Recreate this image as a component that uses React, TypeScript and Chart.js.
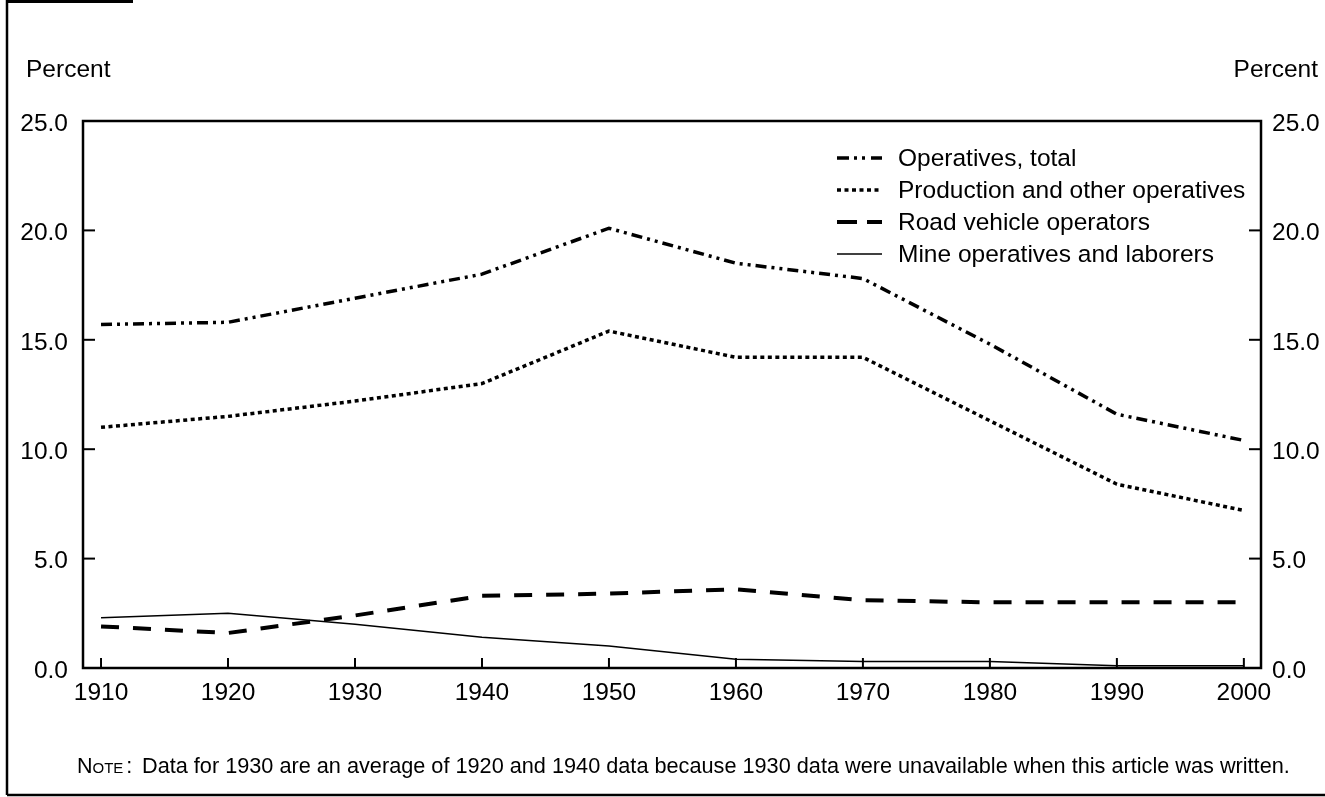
import React, { useEffect, useRef } from "react";
import { Chart, registerables } from "chart.js";

Chart.register(...registerables);

const years = [1910, 1920, 1930, 1940, 1950, 1960, 1970, 1980, 1990, 2000];
const operativesTotal = [15.7, 15.8, 16.9, 18.0, 20.1, 18.5, 17.8, 14.8, 11.6, 10.4];
const productionOther = [11.0, 11.5, 12.2, 13.0, 15.4, 14.2, 14.2, 11.3, 8.4, 7.2];
const roadVehicle = [1.9, 1.6, 2.4, 3.3, 3.4, 3.6, 3.1, 3.0, 3.0, 3.0];
const mineOperatives = [2.3, 2.5, 2.0, 1.4, 1.0, 0.4, 0.3, 0.3, 0.1, 0.1];
const yTicks = [0, 5, 10, 15, 20, 25];
const seriesNames = [
  "Operatives, total",
  "Production and other operatives",
  "Road vehicle operators",
  "Mine operatives and laborers",
];
const axisTitle = "Percent";
const noteLabel = ["N", "OTE", ":"];
const noteText = "Data for 1930 are an average of 1920 and 1940 data because 1930 data were unavailable when this article was written.";

const FONT = '"Liberation Sans", Arial, sans-serif';
const W = 1325;
const H = 797;
const TXT = 24.5;

const styles = [
  { dash: [11, 5, 3, 5, 3, 5], width: 3.5, legendDash: [12, 5, 3, 5, 3, 6] },
  { dash: [4, 3.5], width: 3.5, legendDash: [4, 3.5] },
  { dash: [18, 14], width: 4, legendDash: [20, 10] },
  { dash: [], width: 1.5, legendDash: [] },
];

const framePlugin = {
  id: "framePlugin",
  beforeDraw(chart: any) {
    const ctx = chart.ctx;
    ctx.save();
    ctx.fillStyle = "#fff";
    ctx.fillRect(0, 0, chart.width, chart.height);
    ctx.restore();
  },
  afterDraw(chart: any) {
    const { ctx, chartArea: a, scales } = chart;
    const line = (x1: number, y1: number, x2: number, y2: number) => {
      ctx.beginPath();
      ctx.moveTo(x1, y1);
      ctx.lineTo(x2, y2);
      ctx.stroke();
    };
    ctx.save();
    ctx.strokeStyle = "#000";
    ctx.fillStyle = "#000";
    ctx.setLineDash([]);
    // plot frame
    ctx.lineWidth = 2.5;
    ctx.strokeRect(a.left, a.top, a.right - a.left, a.bottom - a.top);
    // inward ticks
    ctx.lineWidth = 2;
    scales.y.ticks.forEach((t: any) => {
      const py = scales.y.getPixelForValue(t.value);
      line(a.left, py, a.left + 12, py);
      line(a.right - 12, py, a.right, py);
    });
    scales.x.ticks.forEach((t: any) => {
      const px = scales.x.getPixelForValue(t.value);
      line(px, a.bottom, px, a.bottom - 10);
    });
    // outer frame
    ctx.lineWidth = 2.5;
    line(7, 0, 7, 795);
    line(7, 795, W, 795);
    ctx.fillRect(6, 0, 127, 3);

    // axis titles
    ctx.font = `${TXT}px ${FONT}`;
    ctx.textBaseline = "alphabetic";
    ctx.textAlign = "left";
    ctx.fillText(axisTitle, 26, 77);
    ctx.textAlign = "right";
    ctx.fillText(axisTitle, 1318, 77);

    // legend
    ctx.textAlign = "left";
    ctx.textBaseline = "middle";
    const rows = [158, 190, 222, 254];
    seriesNames.forEach((name, i) => {
      const y = rows[i];
      ctx.lineWidth = styles[i].width;
      ctx.setLineDash(styles[i].legendDash);
      line(837, y, 882, y);
      ctx.setLineDash([]);
      ctx.fillText(name, 898, y + 1);
    });

    // note
    ctx.textBaseline = "alphabetic";
    let x = 77;
    const by = 773;
    ctx.font = `21.5px ${FONT}`;
    ctx.fillText(noteLabel[0], x, by);
    x += ctx.measureText(noteLabel[0]).width;
    ctx.font = `15px ${FONT}`;
    ctx.fillText(noteLabel[1], x, by);
    x += ctx.measureText(noteLabel[1]).width;
    ctx.font = `21.5px ${FONT}`;
    ctx.fillText(noteLabel[2], x + 3, by);
    ctx.font = `21.7px ${FONT}`;
    ctx.fillText(noteText, 142, by);
    ctx.restore();
  },
};

export default function App() {
  const ref = useRef<HTMLCanvasElement | null>(null);
  useEffect(() => {
    if (!ref.current) return;
    const data = [operativesTotal, productionOther, roadVehicle, mineOperatives];
    const chart = new Chart(ref.current, {
      type: "line",
      data: {
        datasets: data.map((vals, i) => ({
          label: seriesNames[i],
          data: years.map((yr, j) => ({ x: yr, y: vals[j] })),
          borderColor: "#000",
          backgroundColor: "#000",
          borderWidth: styles[i].width,
          borderDash: styles[i].dash,
          pointRadius: 0,
          tension: 0,
          fill: false,
        })),
      },
      options: {
        responsive: false,
        animation: false,
        events: [],
        layout: { padding: { top: 121, left: 0, right: 0, bottom: 0 } },
        plugins: {
          legend: { display: false },
          tooltip: { enabled: false },
          title: { display: false },
        },
        scales: {
          x: {
            type: "linear",
            min: 1908.58,
            max: 2001.35,
            afterBuildTicks: (s: any) => {
              s.ticks = years.map((v) => ({ value: v }));
            },
            afterFit: (s: any) => {
              s.height = H - 668;
            },
            grid: { display: false, drawTicks: false },
            border: { display: false },
            ticks: {
              color: "#000",
              font: { family: FONT, size: TXT },
              padding: 11,
              maxRotation: 0,
              autoSkip: false,
              callback: (v: any) => String(v),
            },
          },
          y: {
            type: "linear",
            position: "left",
            min: 0,
            max: 25,
            afterBuildTicks: (s: any) => {
              s.ticks = yTicks.map((v) => ({ value: v }));
            },
            afterFit: (s: any) => {
              s.width = 83;
            },
            grid: { display: false, drawTicks: false },
            border: { display: false },
            ticks: {
              color: "#000",
              font: { family: FONT, size: TXT },
              padding: 15,
              labelOffset: 3,
              callback: (v: any) => Number(v).toFixed(1),
            },
          },
          y2: {
            type: "linear",
            position: "right",
            min: 0,
            max: 25,
            afterBuildTicks: (s: any) => {
              s.ticks = yTicks.map((v) => ({ value: v }));
            },
            afterFit: (s: any) => {
              s.width = W - 1261;
            },
            grid: { display: false, drawTicks: false },
            border: { display: false },
            ticks: {
              color: "#000",
              font: { family: FONT, size: TXT },
              padding: 11,
              labelOffset: 3,
              callback: (v: any) => Number(v).toFixed(1),
            },
          },
        },
      },
      plugins: [framePlugin],
    });
    return () => chart.destroy();
  }, []);
  return (
    <div style={{ position: "absolute", left: 0, top: 0, width: W, height: H, background: "#fff" }}>
      <canvas ref={ref} width={W} height={H} style={{ display: "block", width: W, height: H }} />
    </div>
  );
}
